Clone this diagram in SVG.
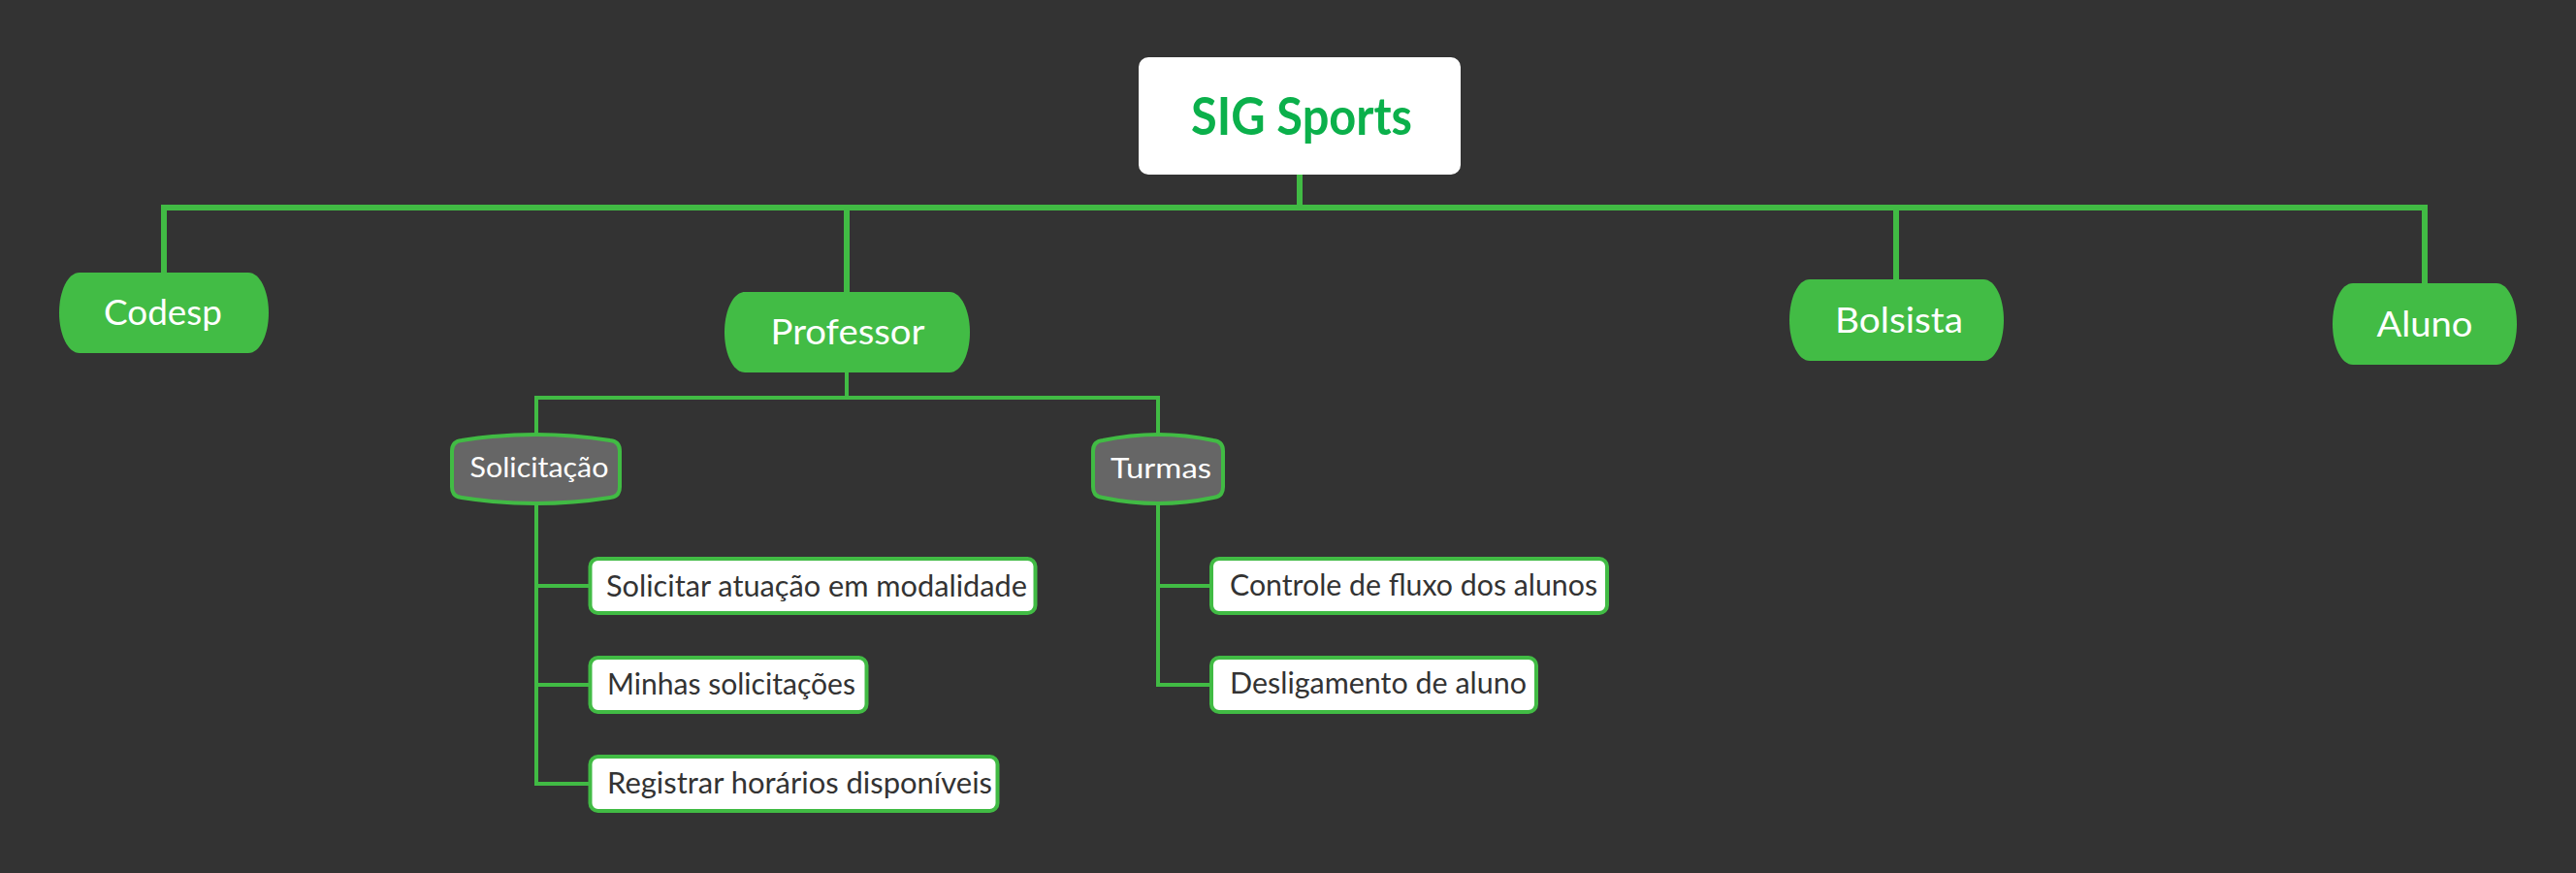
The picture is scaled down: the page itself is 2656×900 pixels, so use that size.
<svg xmlns="http://www.w3.org/2000/svg" width="2656" height="900" viewBox="0 0 2656 900">
<style>
.bg{fill:#333333}
.main{fill:none;stroke:#41BB44;stroke-width:6}
.sub{fill:none;stroke:#41BB44;stroke-width:4}
.barrel{fill:#42BC45}
.cat{fill:#666666;stroke:#41BB44;stroke-width:4}
.leaf{fill:#FFFFFF;stroke:#41BB44;stroke-width:4}
.t1{font-family:Lato,"Noto Sans",sans-serif;font-size:36px;fill:#FFFFFF;text-anchor:middle}
.t2{font-family:Lato,"Noto Sans",sans-serif;font-size:28px;fill:#FFFFFF;text-anchor:middle}
.t3{font-family:Lato,"Noto Sans",sans-serif;font-size:31px;fill:#333333}
.root{font-family:Lato,"Noto Sans",sans-serif;font-size:54px;font-weight:700;fill:#0BB04B;text-anchor:middle}
</style>
<rect class="bg" x="0" y="0" width="2656" height="900"/>
<g id="connectors">
<path class="main" d="M1340,180 V214"/>
<path class="main" d="M169,282 V214 H2500 V293"/>
<path class="main" d="M873,214 V302"/>
<path class="main" d="M1955,214 V289"/>
<path class="sub" d="M873,383 V410 M553,448 V410 H1194 V448"/>
<path class="sub" d="M553,518 V808 H608 M553,604 H608 M553,706 H608"/>
<path class="sub" d="M1194,517 V706 H1248 M1194,604 H1248"/>
</g>
<g id="root">
<rect x="1174" y="59" width="332" height="121" rx="10" fill="#FFFFFF"/>
<text class="root" x="1342" y="139" textLength="228" lengthAdjust="spacingAndGlyphs">SIG Sports</text>
</g>
<g id="codesp">
<path class="barrel" d="M82,281 H256 C268,281 277,300 277,322.5 C277,345 268,364 256,364 H82 C70,364 61,345 61,322.5 C61,300 70,281 82,281 Z"/>
<text class="t1" x="168" y="335" textLength="122" lengthAdjust="spacingAndGlyphs">Codesp</text>
</g>
<g id="professor">
<path class="barrel" d="M768,301 H979 C991,301 1000,320 1000,342.5 C1000,365 991,384 979,384 H768 C756,384 747,365 747,342.5 C747,320 756,301 768,301 Z"/>
<text class="t1" x="874" y="355" textLength="159" lengthAdjust="spacingAndGlyphs">Professor</text>
</g>
<g id="bolsista">
<path class="barrel" d="M1866,288 H2045 C2057,288 2066,307 2066,330 C2066,353 2057,372 2045,372 H1866 C1854,372 1845,353 1845,330 C1845,307 1854,288 1866,288 Z"/>
<text class="t1" x="1958" y="343" textLength="132" lengthAdjust="spacingAndGlyphs">Bolsista</text>
</g>
<g id="aluno">
<path class="barrel" d="M2426,292 H2574 C2586,292 2595,311 2595,334 C2595,357 2586,376 2574,376 H2426 C2414,376 2405,357 2405,334 C2405,311 2414,292 2426,292 Z"/>
<text class="t1" x="2500" y="347" textLength="99" lengthAdjust="spacingAndGlyphs">Aluno</text>
</g>
<g id="solicitacao">
<path class="cat" d="M466,465 Q466,455 476,454 Q552.5,442 629,454 Q639,455 639,465 V502 Q639,512 629,513 Q552.5,525 476,513 Q466,512 466,502 Z"/>
<text class="t2" x="556" y="492" textLength="143" lengthAdjust="spacingAndGlyphs">Solicitação</text>
</g>
<g id="turmas">
<path class="cat" d="M1127,465 Q1127,455 1137,454 Q1194,442 1251,454 Q1261,455 1261,465 V502 Q1261,512 1251,513 Q1194,525 1137,513 Q1127,512 1127,502 Z"/>
<text class="t2" x="1197" y="493" textLength="104" lengthAdjust="spacingAndGlyphs">Turmas</text>
</g>
<g id="solicitar-atuacao">
<rect class="leaf" x="608.5" y="576" width="459" height="56" rx="8"/>
<text class="t3" x="625" y="615" textLength="434" lengthAdjust="spacingAndGlyphs">Solicitar atuação em modalidade</text>
</g>
<g id="minhas-solicitacoes">
<rect class="leaf" x="608.5" y="678" width="285" height="56" rx="8"/>
<text class="t3" x="626" y="716" textLength="256" lengthAdjust="spacingAndGlyphs">Minhas solicitações</text>
</g>
<g id="registrar-horarios">
<rect class="leaf" x="608.5" y="780" width="420" height="56" rx="8"/>
<text class="t3" x="626" y="818" textLength="397" lengthAdjust="spacingAndGlyphs">Registrar horários disponíveis</text>
</g>
<g id="controle-fluxo">
<rect class="leaf" x="1249" y="576" width="408" height="56" rx="8"/>
<text class="t3" x="1268" y="614" textLength="379" lengthAdjust="spacingAndGlyphs">Controle de fluxo dos alunos</text>
</g>
<g id="desligamento">
<rect class="leaf" x="1249" y="678" width="335" height="56" rx="8"/>
<text class="t3" x="1268" y="715" textLength="306" lengthAdjust="spacingAndGlyphs">Desligamento de aluno</text>
</g>
</svg>
